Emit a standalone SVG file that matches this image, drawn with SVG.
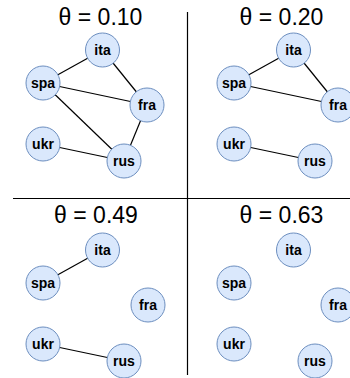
<svg xmlns="http://www.w3.org/2000/svg" width="350" height="378" viewBox="0 0 350 378">
<style>
.n circle{fill:#dae8fc;stroke:#6c8ebf;stroke-width:1}
.n text{font-family:"Liberation Sans",Arial,sans-serif;font-weight:bold;font-size:14px;fill:#000;text-anchor:middle;dominant-baseline:central}
.t{font-family:"Liberation Sans",Arial,sans-serif;font-size:23px;fill:#000;text-anchor:middle}
.e line{stroke:#000;stroke-width:1.2}
.sep{stroke:#000;stroke-width:1.2}
</style>
<rect width="350" height="378" fill="#fff"/>
<g id="separators">
<line class="sep" x1="187.5" y1="12" x2="187.5" y2="375"/>
<line class="sep" x1="13" y1="198.5" x2="350" y2="198.5"/>
</g>
<g id="titles">
<text class="t" x="100.5" y="25">θ = 0.10</text>
<text class="t" x="281.5" y="25">θ = 0.20</text>
<text class="t" x="96" y="223">θ = 0.49</text>
<text class="t" x="281.5" y="223">θ = 0.63</text>
</g>
<g id="connectors" class="e">
<line x1="43" y1="83" x2="102.5" y2="50"/>
<line x1="102.5" y1="50" x2="147" y2="105"/>
<line x1="43" y1="83" x2="147" y2="105"/>
<line x1="43" y1="83" x2="124" y2="161"/>
<line x1="147" y1="105" x2="124" y2="161"/>
<line x1="43" y1="144" x2="124" y2="161"/>
<line x1="234" y1="83" x2="293.5" y2="50"/>
<line x1="293.5" y1="50" x2="338" y2="105"/>
<line x1="234" y1="83" x2="338" y2="105"/>
<line x1="234" y1="144" x2="315" y2="161"/>
<line x1="43" y1="283" x2="102.5" y2="250"/>
<line x1="43" y1="344" x2="124" y2="361"/>
</g>
<g id="p1-ita" class="n"><circle cx="102.5" cy="50" r="17"/><text x="102.5" y="50">ita</text></g>
<g id="p1-spa" class="n"><circle cx="43" cy="83" r="17"/><text x="43" y="83">spa</text></g>
<g id="p1-fra" class="n"><circle cx="147" cy="105" r="17"/><text x="147" y="105">fra</text></g>
<g id="p1-ukr" class="n"><circle cx="43" cy="144" r="17"/><text x="43" y="144">ukr</text></g>
<g id="p1-rus" class="n"><circle cx="124" cy="161" r="17"/><text x="124" y="161">rus</text></g>
<g id="p2-ita" class="n"><circle cx="293.5" cy="50" r="17"/><text x="293.5" y="50">ita</text></g>
<g id="p2-spa" class="n"><circle cx="234" cy="83" r="17"/><text x="234" y="83">spa</text></g>
<g id="p2-fra" class="n"><circle cx="338" cy="105" r="17"/><text x="338" y="105">fra</text></g>
<g id="p2-ukr" class="n"><circle cx="234" cy="144" r="17"/><text x="234" y="144">ukr</text></g>
<g id="p2-rus" class="n"><circle cx="315" cy="161" r="17"/><text x="315" y="161">rus</text></g>
<g id="p3-ita" class="n"><circle cx="102.5" cy="250" r="17"/><text x="102.5" y="250">ita</text></g>
<g id="p3-spa" class="n"><circle cx="43" cy="283" r="17"/><text x="43" y="283">spa</text></g>
<g id="p3-fra" class="n"><circle cx="148" cy="305" r="17"/><text x="148" y="305">fra</text></g>
<g id="p3-ukr" class="n"><circle cx="43" cy="344" r="17"/><text x="43" y="344">ukr</text></g>
<g id="p3-rus" class="n"><circle cx="124" cy="361" r="17"/><text x="124" y="361">rus</text></g>
<g id="p4-ita" class="n"><circle cx="293.5" cy="250" r="17"/><text x="293.5" y="250">ita</text></g>
<g id="p4-spa" class="n"><circle cx="234" cy="283" r="17"/><text x="234" y="283">spa</text></g>
<g id="p4-fra" class="n"><circle cx="338" cy="305" r="17"/><text x="338" y="305">fra</text></g>
<g id="p4-ukr" class="n"><circle cx="234" cy="344" r="17"/><text x="234" y="344">ukr</text></g>
<g id="p4-rus" class="n"><circle cx="315" cy="361" r="17"/><text x="315" y="361">rus</text></g>
</svg>
